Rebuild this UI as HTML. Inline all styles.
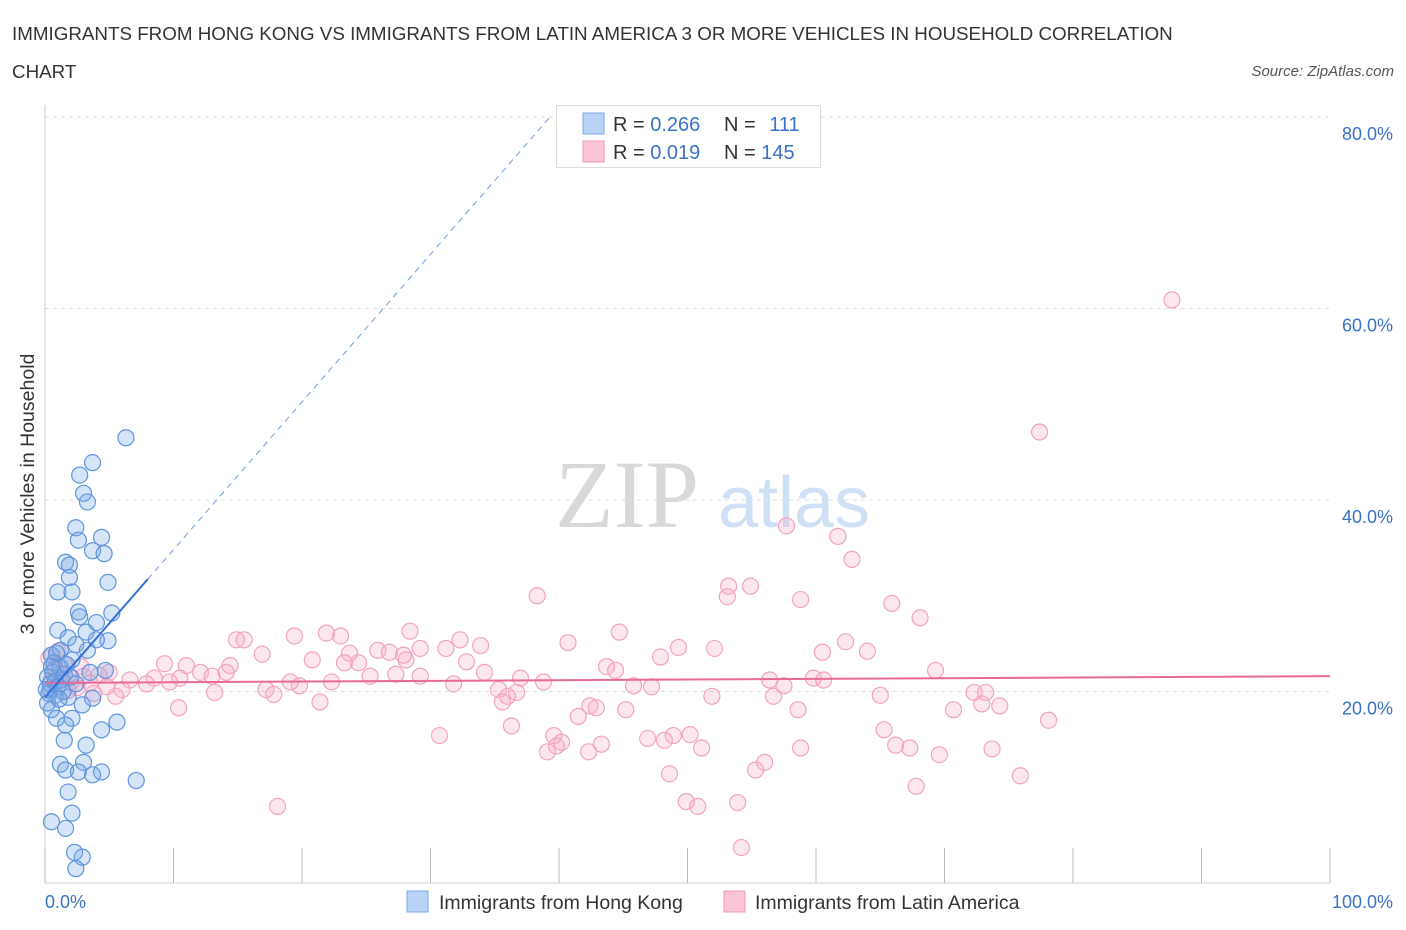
<!DOCTYPE html>
<html><head><meta charset="utf-8"><style>
body{margin:0;background:#fff;font-family:"Liberation Sans",sans-serif;}
svg{display:block}
</style></head><body>
<svg id="chart" width="1406" height="930" xmlns="http://www.w3.org/2000/svg">
<text x="12" y="40" font-size="18.8" fill="#333">IMMIGRANTS FROM HONG KONG VS IMMIGRANTS FROM LATIN AMERICA 3 OR MORE VEHICLES IN HOUSEHOLD CORRELATION</text>
<text x="12" y="78" font-size="18.8" fill="#333">CHART</text>
<text x="1394" y="76" font-size="15" fill="#555" font-style="italic" text-anchor="end">Source: ZipAtlas.com</text>
<text x="555" y="527" font-size="96" fill="#d8d8d8" font-family="Liberation Serif,serif">ZIP</text>
<text x="718" y="527" font-size="72" fill="#cfe0f4">atlas</text>
<g id="grid"></g>
<g id="axes"></g>
<g id="marks"></g>
<text x="34" y="494" font-size="19.5" fill="#333" text-anchor="middle" transform="rotate(-90 34 494)">3 or more Vehicles in Household</text>
<text x="45" y="908" font-size="18" fill="#3a72c8">0.0%</text>
<text x="1393" y="908" font-size="18" fill="#3a72c8" text-anchor="end">100.0%</text>
<g>
<rect x="556.5" y="105.5" width="264" height="62" fill="#fff" stroke="#ddd"/>
<rect x="583" y="113" width="21" height="21" fill="#b8d3f5" stroke="#7aa8e6"/>
<rect x="583" y="141" width="21" height="21" fill="#fcc6d6" stroke="#f09ab6"/>
<text x="613" y="131" font-size="20" fill="#333">R = <tspan fill="#3a72c8">0.266</tspan></text>
<text x="724" y="131" font-size="20" fill="#333">N = <tspan fill="#3a72c8" dx="8">111</tspan></text>
<text x="613" y="159" font-size="20" fill="#333">R = <tspan fill="#3a72c8">0.019</tspan></text>
<text x="724" y="159" font-size="20" fill="#333">N = <tspan fill="#3a72c8">145</tspan></text>
</g>
<g>
<rect x="407" y="891" width="21" height="21" fill="#b8d3f5" stroke="#7aa8e6"/>
<text x="439" y="909" font-size="19.5" fill="#333">Immigrants from Hong Kong</text>
<rect x="724" y="891" width="21" height="21" fill="#fcc6d6" stroke="#f09ab6"/>
<text x="755" y="909" font-size="19.5" fill="#333">Immigrants from Latin America</text>
</g>
</svg>
<script>
const hkX=[6.3,3.7,2.7,3.0,3.3,2.4,4.4,2.6,3.7,4.6,1.6,1.9,1.9,4.9,1.0,2.1,2.6,5.2,2.7,4.0,1.0,1.8,3.2,4.9,4.0,2.4,1.2,3.3,0.5,2.1,4.7,3.5,1.3,0.4,0.8,1.8,2.9,3.7,0.5,0.9,2.1,1.6,5.6,4.4,1.5,3.2,1.2,3.0,1.6,2.6,4.4,3.7,7.1,1.8,2.1,0.5,1.6,2.3,2.9,2.4,0.2,0.4,0.6,0.8,1.0,1.2,0.3,1.5,0.1,0.7,1.4,2.0,0.9,1.7,0.2,1.1,2.4,0.5];
const hkY=[46.5,43.9,42.6,40.7,39.8,37.1,36.1,35.8,34.7,34.4,33.5,33.2,31.9,31.4,30.4,30.4,28.3,28.2,27.8,27.2,26.4,25.6,26.2,25.3,25.4,24.9,24.3,24.3,23.8,23.3,22.2,22.0,21.2,20.2,19.6,19.4,18.6,19.3,18.1,17.2,17.2,16.5,16.8,16.0,14.9,14.4,12.4,12.6,11.8,11.6,11.6,11.3,10.7,9.5,7.3,6.4,5.7,3.2,2.7,1.5,21.5,20.8,22.0,21.0,20.5,22.5,19.8,21.8,20.2,23.0,20.0,21.5,24.0,22.8,18.8,19.2,20.8,22.6];
const laX=[87.7,77.4,57.7,61.7,62.8,53.2,54.9,53.1,38.3,58.8,65.9,68.1,44.7,40.7,28.4,21.9,19.4,23.0,14.9,15.5,32.3,33.9,62.3,49.3,52.1,29.2,31.2,16.9,23.7,25.9,26.8,27.9,60.5,64.0,47.9,9.3,11.0,20.8,14.4,23.3,24.4,28.1,32.8,43.7,44.4,69.3,34.2,12.1,13.0,10.5,8.5,6.6,9.7,7.9,14.1,25.3,27.3,29.2,19.1,19.8,22.3,31.8,37.0,38.8,45.8,47.2,56.4,57.5,59.8,60.6,35.3,17.2,17.8,13.2,6.0,5.5,36.0,36.7,51.9,56.7,65.0,72.3,73.2,21.4,35.6,42.4,42.9,45.2,70.7,72.9,74.3,10.4,58.6,41.5,78.1,36.3,30.7,48.9,50.2,46.9,39.6,39.8,43.3,40.2,48.2,65.3,58.8,66.2,67.3,69.6,51.1,73.7,39.1,42.3,56.0,55.3,48.6,75.9,67.8,49.9,50.8,53.9,18.1,54.2,0.3,0.8,1.2,1.5,2.0,2.5,3.0,3.5,4.2,1.8,0.5,2.8,4.8,5.0,1.0,3.8];
const laY=[60.9,47.1,37.3,36.2,33.8,31.0,31.0,29.9,30.0,29.6,29.2,27.7,26.2,25.1,26.3,26.1,25.8,25.8,25.4,25.4,25.4,24.8,25.2,24.6,24.5,24.5,24.5,23.9,24.0,24.3,24.1,23.8,24.1,24.2,23.6,22.9,22.7,23.3,22.7,23.0,23.0,23.3,23.1,22.6,22.2,22.2,22.0,22.0,21.6,21.4,21.4,21.2,21.0,20.8,22.0,21.6,21.8,21.6,21.0,20.6,21.0,20.8,21.4,21.0,20.6,20.5,21.2,20.6,21.4,21.2,20.2,20.2,19.7,19.9,20.2,19.5,19.5,19.9,19.5,19.5,19.6,19.9,19.9,18.9,18.9,18.5,18.3,18.1,18.1,18.7,18.5,18.3,18.1,17.4,17.0,16.4,15.4,15.4,15.5,15.1,15.4,14.3,14.5,14.7,14.9,16.0,14.1,14.4,14.1,13.4,14.1,14.0,13.7,13.7,12.6,11.8,11.4,11.2,10.1,8.5,8.0,8.4,8.0,3.7,23.5,22.4,21.8,22.9,21.0,20.4,21.6,20.9,21.7,20.1,21.2,22.6,20.5,22.0,24.2,19.8];
const yTicks=[20,40,60,80];
const yTickLabels=["20.0%","40.0%","60.0%","80.0%"];
const xTicks=[0,10,20,30,40,50,60,70,80,90,100];
const hkTrend=[19.4,49.5];
const laTrend=[20.9,21.6];
const NS="http://www.w3.org/2000/svg";
const X=v=>45+v*12.85, Y=v=>883-v*9.575;
function mk(tag,attrs,parent){const e=document.createElementNS(NS,tag);for(const k in attrs)e.setAttribute(k,attrs[k]);parent.appendChild(e);return e;}
const grid=document.getElementById('grid'),axes=document.getElementById('axes'),marks=document.getElementById('marks');
yTicks.forEach((t,i)=>{
 const l=mk('line',{x1:45,x2:1330,y1:Y(t),y2:Y(t),stroke:'#ddd','stroke-dasharray':'4 4'},grid);
 
 
 const tx=mk('text',{x:1393,y:Y(t)+23,'font-size':18,fill:'#3a72c8','text-anchor':'end'},grid);
 tx.textContent=yTickLabels[i];
 
 
});
const ax=mk('line',{x1:45,x2:1330,y1:883,y2:883,stroke:'#ccc'},axes);


const ay=mk('line',{x1:45,x2:45,y1:105,y2:883,stroke:'#ccc'},axes);


xTicks.forEach(t=>{
 const l=mk('line',{x1:X(t),x2:X(t),y1:848,y2:883,stroke:'#bbb'},axes);
 
 
});
laX.forEach((v,i)=>{
 const c=mk('circle',{cx:X(v),cy:Y(laY[i]),r:8,fill:'rgba(248,170,195,0.28)',stroke:'#f2a3bf','stroke-width':1.2},marks);
 
 
});
hkX.forEach((v,i)=>{
 const c=mk('circle',{cx:X(v),cy:Y(hkY[i]),r:8,fill:'rgba(120,165,230,0.3)',stroke:'#5f94dc','stroke-width':1.2},marks);
 
 
});
const lt=mk('line',{x1:X(0),y1:Y(laTrend[0]),x2:X(100),y2:Y(laTrend[1]),stroke:'#e86a98','stroke-width':2},marks);


const hs=1.149*12.85/9.575;
const hy=x=>hkTrend[0]+hs*x;
const ht=mk('line',{x1:X(0),y1:Y(hy(0)),x2:X(8),y2:Y(hy(8)),stroke:'#2f6fd6','stroke-width':2},marks);


const hd=mk('line',{x1:X(8),y1:Y(hy(8)),x2:X(39.3),y2:Y(hy(39.3)),stroke:'#6d9ee0','stroke-width':1,'stroke-dasharray':'6 5'},marks);


</script>
</body></html>
